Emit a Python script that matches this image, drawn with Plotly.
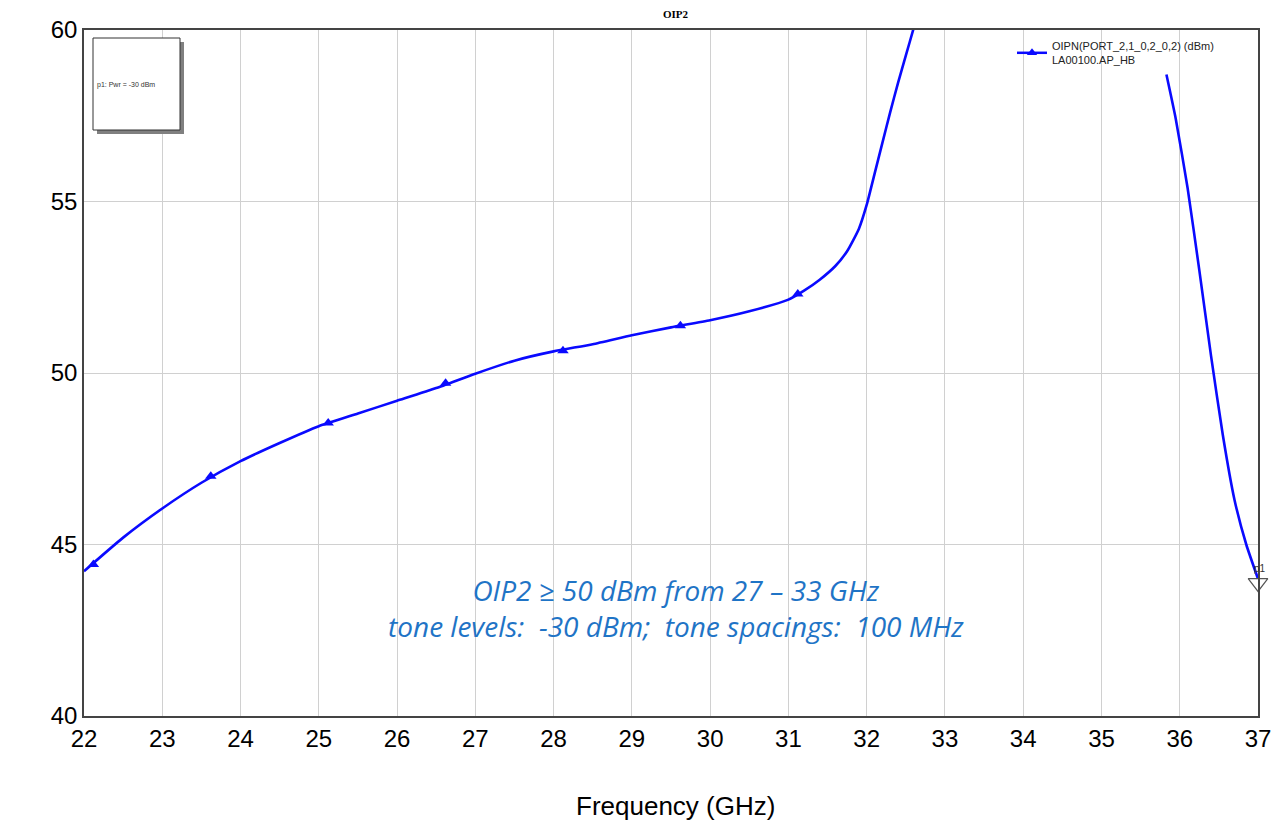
import plotly.graph_objects as go

# Curve data (GHz, dBm); None marks the part that runs off the top of the chart
freq = [22.0, 22.5, 23.0, 23.5, 24.0, 24.5, 25.0, 25.5, 26.0, 26.5, 27.0, 27.5, 28.0, 28.5,
        29.0, 29.5, 30.0, 30.5, 31.0, 31.2, 31.4, 31.6, 31.75, 31.9, 32.0, 32.1, 32.2,
        32.3, 32.4, 32.5, 32.6, 32.7, None,
        35.83, 35.95, 36.1, 36.25, 36.4, 36.55, 36.7, 36.85, 37.0]
oip2 = [44.22, 45.2, 46.05, 46.8, 47.43, 47.96, 48.45, 48.82, 49.19, 49.56, 49.98, 50.36, 50.63,
        50.84, 51.1, 51.33, 51.54, 51.8, 52.14, 52.4, 52.72, 53.12, 53.55, 54.2, 54.9, 55.8,
        56.7, 57.6, 58.45, 59.25, 60.05, 60.85, None,
        58.7, 57.4, 55.4, 53.0, 50.5, 48.2, 46.3, 45.0, 44.0]

# Marker positions along the trace
mk_freq = [22.12, 23.62, 25.12, 26.62, 28.12, 29.62, 31.12]
mk_oip2 = [44.42, 46.99, 48.54, 49.7, 50.65, 51.38, 52.3]

x_ticks = list(range(22, 38))
y_ticks = [40, 45, 50, 55, 60]

blue = "#0a0aff"

# plot area in page pixels (page body has an 8px offset)
PX0, PX1, PY0, PY1 = 84, 1258, 30, 716
PW, PH = PX1 - PX0, PY1 - PY0


def px(x):
    return (x - PX0) / PW


def py(y):
    return 1 - (y - PY0) / PH


fig = go.Figure()
fig.add_trace(go.Scatter(x=freq, y=oip2, mode="lines",
                         line=dict(color=blue, width=2.6, shape="spline", smoothing=0.5),
                         showlegend=False, connectgaps=False, hoverinfo="skip"))
fig.add_trace(go.Scatter(x=mk_freq, y=mk_oip2, mode="markers",
                         marker=dict(symbol="triangle-up", size=10, color=blue),
                         showlegend=False))
# legend sample
fig.add_trace(go.Scatter(x=[None], y=[None], mode="lines+markers",
                         line=dict(color=blue, width=2.5),
                         marker=dict(symbol="triangle-up", size=9, color=blue),
                         name="OIPN(PORT_2,1_0,2_0,2) (dBm)<br>LA00100.AP_HB"))
# p1 marker
fig.add_trace(go.Scatter(x=[37.0], y=[43.88], mode="markers",
                         marker=dict(symbol="triangle-down-open", size=17, color="#555555",
                                     line=dict(width=1.2)),
                         cliponaxis=False, showlegend=False, hoverinfo="skip"))

fig.update_layout(
    width=1276, height=823,
    margin=dict(l=76, r=26, t=22, b=115),
    paper_bgcolor="white", plot_bgcolor="white",
    font=dict(family="Arial", color="black"),
    xaxis=dict(range=[22, 37], tickvals=x_ticks, ticktext=[str(v) for v in x_ticks],
               tickfont=dict(size=24), showgrid=True, gridcolor="#d0d0d0", gridwidth=1,
               showline=True, linecolor="#444444", linewidth=1.5, mirror=True, zeroline=False,
               ticks="", ticklen=0, automargin=False),
    yaxis=dict(range=[40, 60], tickvals=y_ticks, ticktext=[str(v) for v in y_ticks],
               tickfont=dict(size=24), showgrid=True, gridcolor="#d0d0d0", gridwidth=1,
               showline=True, linecolor="#444444", linewidth=1.5, mirror=True, zeroline=False,
               ticks="", ticklen=0, automargin=False),
    legend=dict(x=px(1012), y=py(32), xanchor="left", yanchor="top",
                bgcolor="rgba(0,0,0,0)", font=dict(size=11, family="Arial", color="#222222"),
                itemwidth=30, tracegroupgap=0),
    showlegend=True,
)

# title
fig.add_annotation(xref="paper", yref="paper", x=px(676), y=py(14), xanchor="center",
                   yanchor="middle", showarrow=False, text="<b>OIP2</b>",
                   font=dict(family="Liberation Serif", size=11, color="black"))
# x axis title
fig.add_annotation(xref="paper", yref="paper", x=px(676), y=py(806), xanchor="center",
                   yanchor="middle", showarrow=False, text="Frequency (GHz)",
                   font=dict(family="Arial", size=26, color="black"))
# p1 label
fig.add_annotation(xref="paper", yref="paper", x=px(1260), y=py(568), xanchor="center",
                   yanchor="middle", showarrow=False, text="p1",
                   font=dict(family="Arial", size=10, color="#333333"))

# box with shadow at top left
fig.add_shape(type="rect", xref="paper", yref="paper",
              x0=px(97), x1=px(184), y0=py(134), y1=py(42),
              fillcolor="#808080", line=dict(width=0))
fig.add_shape(type="rect", xref="paper", yref="paper",
              x0=px(93), x1=px(180), y0=py(130), y1=py(38),
              fillcolor="white", line=dict(color="#333333", width=1))
fig.add_annotation(xref="paper", yref="paper", x=px(95), y=py(85),
                   xanchor="left", yanchor="middle", showarrow=False,
                   text="p1: Pwr = -30 dBm", font=dict(size=7, family="Arial", color="#333333"))

# blue italic annotation
fig.add_annotation(xref="paper", yref="paper", x=px(676), y=py(608),
                   xanchor="center", yanchor="middle", showarrow=False, align="center",
                   text="<i>OIP2 ≥ 50 dBm from 27 – 33 GHz</i><br><i>tone levels:  -30 dBm;  tone spacings:  100 MHz</i>",
                   font=dict(size=28, family="Open Sans", color="#1f74c6"))

fig.write_html("out.html")
